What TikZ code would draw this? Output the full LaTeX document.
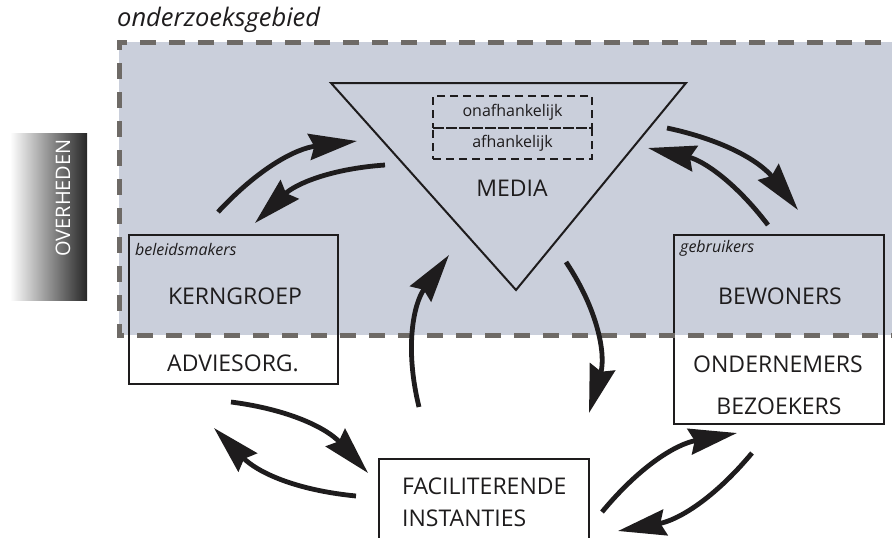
\documentclass[tikz,border=0pt]{standalone}
\usepackage{fontspec}
\setmainfont{Open Sans}
\usetikzlibrary{arrows.meta}
\definecolor{areafill}{HTML}{CACFDB}
\definecolor{areadash}{HTML}{6E6A66}
\definecolor{ink}{HTML}{1E1C1D}
\tikzset{
  bigfont/.style={font=\fontsize{23}{27}\selectfont},
  smallit/.style={font=\fontsize{16}{19}\selectfont\itshape},
  flow/.style={line width=4.8pt, ink, -{Stealth[length=48pt,width=26pt,inset=5pt]}},
  groupbox/.style={draw=ink, line width=2pt, inner sep=0pt},
  mediapart/.style={draw=ink, dash pattern=on 8pt off 5pt, line width=2pt, minimum width=159pt, inner sep=0pt, font=\fontsize{16}{19}\selectfont},
}
\begin{document}
\begin{tikzpicture}[x=1pt, y=-1pt, text=ink]
\useasboundingbox (0,0) rectangle (892,538);
\clip (0,0) rectangle (892,538);
% research area
\fill[areafill] (119,42) rectangle (910,335);
\node[anchor=south west, inner sep=0pt, font=\fontsize{25.5}{29}\selectfont\itshape] (areaname) at (117,33) {onderzoeksgebied};
% government bar
\shade[left color=white, right color=black!85] (10,133) rectangle (87,300);
\node[rotate=90, text=white, font=\fontsize{20}{24}\selectfont] (overheden) at (63,198) {OVERHEDEN};
% media triangle
\coordinate (triL) at (331,83);
\coordinate (triR) at (686,83);
\coordinate (triB) at (516,290);
\draw[ink, line width=2pt, line join=miter] (triL) -- (triR) -- (triB) -- cycle;
\node[mediapart, minimum height=32pt] (onafh) at (512.5,112) {onafhankelijk};
\node[mediapart, minimum height=31pt] (afh) at (512.5,143.5) {afhankelijk};
\node[bigfont] (media) at (512,188) {MEDIA};
% policy makers
\node[groupbox, minimum width=209pt, minimum height=149pt] (kernbox) at (233.5,309.5) {};
\node[smallit, anchor=west, inner sep=0pt] (beleid) at (135,249) {beleidsmakers};
\node[bigfont] (kern) at (235,296) {KERNGROEP};
\node[bigfont] (advies) at (233,363) {ADVIESORG.};
% users
\node[groupbox, minimum width=210pt, minimum height=189pt] (bewbox) at (779,329.5) {};
\node[smallit, anchor=west, inner sep=0pt] (gebr) at (680,248) {gebruikers};
\node[bigfont] (bew) at (780,296) {BEWONERS};
\node[bigfont] (onder) at (778,364) {ONDERNEMERS};
\node[bigfont] (bezoek) at (779,406) {BEZOEKERS};
% facilitating bodies
\node[groupbox, minimum width=210pt, minimum height=120pt] (facbox) at (484,519) {};
\node[bigfont, anchor=west, inner sep=0pt] (fac1) at (402,486) {FACILITERENDE};
\node[bigfont, anchor=west, inner sep=0pt] (fac2) at (402,518) {INSTANTIES};
% dashed border drawn over the boxes
\draw[areadash, line width=5pt, dash pattern=on 16pt off 13pt] (910,42) -- (119,42) -- (119,335) -- (910,335);
% arrow ends
\coordinate (k2mA) at (218,212);  \coordinate (k2mB) at (357,141);
\coordinate (m2kA) at (385,165);  \coordinate (m2kB) at (255,223);
\coordinate (m2bA) at (667,128);  \coordinate (m2bB) at (798,210);
\coordinate (b2mA) at (768,225);  \coordinate (b2mB) at (648,148);
\coordinate (f2mA) at (419,407);  \coordinate (f2mB) at (449,255);
\coordinate (m2fA) at (566,262);  \coordinate (m2fB) at (589,413);
\coordinate (a2fA) at (231,402);  \coordinate (a2fB) at (368,473);
\coordinate (f2aA) at (356,496);  \coordinate (f2aB) at (214,428);
\coordinate (f2bA) at (602,512);  \coordinate (f2bB) at (737,433);
\coordinate (b2fA) at (752,453);  \coordinate (b2fB) at (618,531);
\draw[flow] (k2mA) to[bend left=20] (k2mB);
\draw[flow] (m2kA) to[bend right=20] (m2kB);
\draw[flow] (m2bA) to[bend left=20] (m2bB);
\draw[flow] (b2mA) to[bend right=20] (b2mB);
\draw[flow] (f2mA) to[bend left=25] (f2mB);
\draw[flow] (m2fA) to[bend left=25] (m2fB);
\draw[flow] (a2fA) to[bend left=20] (a2fB);
\draw[flow] (f2aA) to[bend left=20] (f2aB);
\draw[flow] (f2bA) to[bend left=20] (f2bB);
\draw[flow] (b2fA) to[bend left=20] (b2fB);
\end{tikzpicture}
\end{document}
